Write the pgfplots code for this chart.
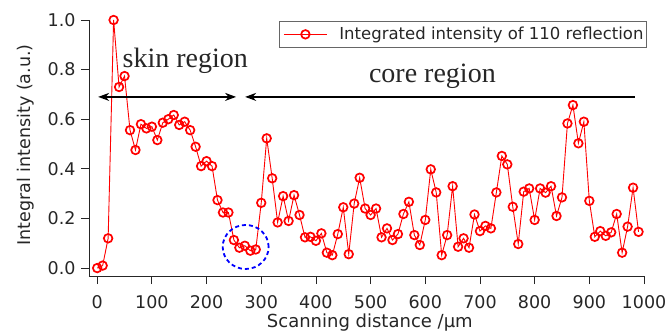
\documentclass[border=0pt]{standalone}
\usepackage{fontspec}
\setmainfont{DejaVu Sans}
\newfontfamily\serifa{Liberation Serif}
\usepackage{pgfplots}
\pgfplotsset{compat=1.18}
\usetikzlibrary{arrows.meta}
\pgfplotstableread{
x y
0 0.0
10 0.01
20 0.12
30 1.0
40 0.73
50 0.774
60 0.556
70 0.476
80 0.58
90 0.563
100 0.57
110 0.516
120 0.586
130 0.60
140 0.617
150 0.577
160 0.59
170 0.556
180 0.489
190 0.411
200 0.431
210 0.411
220 0.274
230 0.224
240 0.224
250 0.113
260 0.082
270 0.09
280 0.07
290 0.075
300 0.263
310 0.523
320 0.362
330 0.184
340 0.29
350 0.19
360 0.294
370 0.214
380 0.124
390 0.126
400 0.11
410 0.14
420 0.062
430 0.052
440 0.137
450 0.245
460 0.056
470 0.26
480 0.364
490 0.24
500 0.214
510 0.24
520 0.124
530 0.16
540 0.113
550 0.137
560 0.218
570 0.267
580 0.133
590 0.093
600 0.194
610 0.398
620 0.305
630 0.052
640 0.133
650 0.33
660 0.086
670 0.12
680 0.082
690 0.216
700 0.149
710 0.17
720 0.16
730 0.305
740 0.452
750 0.418
760 0.247
770 0.097
780 0.308
790 0.321
800 0.194
810 0.321
820 0.304
830 0.33
840 0.21
850 0.285
860 0.583
870 0.657
880 0.503
890 0.59
900 0.271
910 0.126
920 0.149
930 0.13
940 0.144
950 0.218
960 0.062
970 0.167
980 0.324
990 0.146
}\datatable
\begin{document}
\begin{tikzpicture}
\useasboundingbox (-89pt,-57pt) rectangle (579pt,276pt);
\begin{axis}[
  scale only axis,
  width=555pt, height=256pt,
  xmin=-15, xmax=1000, ymin=-0.032, ymax=1.0,
  axis x line*=bottom, axis y line*=left,
  x axis line style={-}, y axis line style={-},
  axis line style={black!85, line width=0.8pt},
  tick align=outside,
  major tick length=8pt,
  tick style={black!85, line width=0.8pt},
  xtick={0,100,...,1000},
  ytick={0,0.2,...,1.0},
  minor tick num=0,
  /pgf/number format/assume math mode=true,
  xticklabel style={/pgf/number format/set thousands separator={}, font=\fontsize{17.5}{19}\selectfont, text=black!85, yshift=-8pt},
  yticklabel style={/pgf/number format/fixed, /pgf/number format/fixed zerofill, /pgf/number format/precision=1, font=\fontsize{17.5}{19}\selectfont, text=black!85, xshift=-2pt},
  xlabel={Scanning distance /µm},
  ylabel={Integral intensity (a.u.)},
  xlabel style={at={(axis description cs:0.506,-0.203)}, anchor=base, font=\fontsize{18}{20}\selectfont, text=black!85},
  ylabel style={at={(axis description cs:-0.1045,0.512)}, anchor=base, font=\fontsize{17.5}{19}\selectfont, text=black!85},
  legend style={at={(1.005,0.996)}, anchor=north east, draw=black!60, line width=0.6pt, font=\fontsize{16.5}{18}\selectfont, inner xsep=1pt, inner ysep=4pt, text=black!85},
  legend image code/.code={\draw[#1, mark repeat=2, mark phase=2] plot coordinates {(0pt,0pt) (21.5pt,0pt) (43pt,0pt)};
    \path (-3pt,0pt) (53pt,0pt);},
  legend cell align=left,
  clip=false,
]
\addplot[red, line width=0.9pt, mark=o, mark size=4.3pt, mark options={line width=1.7pt, fill=none}] table[x=x,y=y]{\datatable};
\addlegendentry{Integrated intensity of 110 reflection}
\draw[line width=1.8pt, {Stealth[length=11pt,width=8pt]}-{Stealth[length=11pt,width=8pt]}] (axis cs:1.8,0.69) -- (axis cs:254,0.69);
\draw[line width=1.8pt, {Stealth[length=11pt,width=8pt]}-] (axis cs:270.6,0.69) -- (axis cs:983,0.69);
\node[anchor=base, font=\serifa\fontsize{28}{30}\selectfont, text=black!85] at (axis cs:161,0.81) {skin region};
\node[anchor=base, font=\serifa\fontsize{28}{30}\selectfont, text=black!85] at (axis cs:613,0.75) {core region};
\draw[blue, line width=1.8pt, dash pattern=on 4pt off 3pt] (axis cs:271.5,0.085) ellipse [x radius=42, y radius=0.0887];
\end{axis}
\end{tikzpicture}
\end{document}
